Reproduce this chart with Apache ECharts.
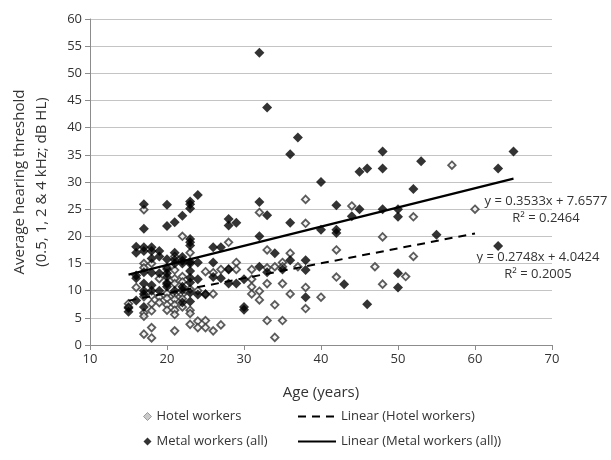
<!DOCTYPE html>
<html>
<head>
<meta charset="utf-8">
<script src="https://cdn.jsdelivr.net/npm/echarts@6/dist/echarts.min.js"></script>
<style>
    html, body { margin: 0; padding: 0; background: #fff; }
    #chart { width: 611px; height: 460px; }
</style>
</head>
<body>
<div id="chart"></div>
<script>
// Hotel workers: [age, average hearing threshold]
const hotelPoints = [
    [15, 7.6], [15, 7.0], [16, 10.6],
    [17, 24.9], [17, 15.0], [17, 14.2], [17, 8.9], [17, 5.9], [17, 5.3], [17, 2.0],
    [18, 15.0], [18, 9.1], [18, 7.6], [18, 6.3], [18, 3.2], [18, 1.3],
    [19, 12.2], [19, 8.8], [19, 7.8],
    [20, 14.3], [20, 11.2], [20, 9.5], [20, 8.6], [20, 7.4], [20, 6.4],
    [21, 16.3], [21, 13.8], [21, 12.2], [21, 11.3], [21, 9.3], [21, 8.4], [21, 7.4], [21, 6.4], [21, 5.6], [21, 2.6],
    [22, 20.0], [22, 12.6], [22, 11.6], [22, 9.3], [22, 8.5], [22, 7.0],
    [23, 17.0], [23, 10.3], [23, 6.4], [23, 5.8], [23, 3.8],
    [24, 10.0], [24, 4.4], [24, 3.2],
    [25, 13.5], [25, 9.3], [25, 4.5], [25, 3.2],
    [26, 13.3], [26, 9.4], [26, 2.6],
    [27, 13.9], [27, 3.7],
    [28, 18.9], [28, 14.0],
    [29, 15.2], [29, 13.9],
    [31, 13.9], [31, 12.1], [31, 10.7], [31, 9.4],
    [32, 24.4], [32, 9.9], [32, 8.3],
    [33, 17.5], [33, 14.2], [33, 11.3], [33, 4.5],
    [34, 14.4], [34, 7.4], [34, 1.4],
    [35, 15.2], [35, 14.4], [35, 11.3], [35, 4.5],
    [36, 16.9], [36, 9.4], [37, 14.4],
    [38, 26.8], [38, 22.4], [38, 10.6], [38, 6.7],
    [40, 8.8], [42, 17.5], [42, 12.5], [44, 25.6], [47, 14.4],
    [48, 19.9], [48, 11.2], [51, 12.6], [52, 23.6], [52, 16.3],
    [57, 33.1], [60, 25.0]
];

// Metal workers (all): [age, average hearing threshold]
const metalPoints = [
    [15, 6.1], [15, 6.8],
    [16, 18.1], [16, 17.0], [16, 12.8], [16, 12.3], [16, 8.2],
    [17, 25.9], [17, 21.4], [17, 18.0], [17, 17.3], [17, 13.4], [17, 11.3], [17, 10.0], [17, 9.4], [17, 7.0],
    [18, 18.0], [18, 17.3], [18, 15.9], [18, 13.3], [18, 11.0], [18, 10.0],
    [19, 17.3], [19, 16.3], [19, 13.2], [19, 10.0],
    [20, 25.8], [20, 21.9], [20, 15.8], [20, 14.0], [20, 13.2], [20, 12.5], [20, 11.4], [20, 10.7],
    [21, 22.6], [21, 17.0], [21, 15.7], [21, 15.0], [21, 10.0],
    [22, 23.8], [22, 16.2], [22, 15.5], [22, 15.0], [22, 10.7], [22, 10.1], [22, 7.8],
    [23, 26.4], [23, 25.9], [23, 25.1], [23, 19.5], [23, 18.9], [23, 18.3], [23, 15.3], [23, 15.0], [23, 13.6], [23, 12.4], [23, 11.5], [23, 9.6], [23, 8.0],
    [24, 27.6], [24, 15.2], [24, 12.1], [24, 9.3],
    [25, 9.4], [26, 18.0], [26, 15.2], [26, 12.5], [27, 18.0], [27, 12.3],
    [28, 23.2], [28, 22.0], [28, 13.9], [28, 11.3], [29, 22.5], [29, 11.3],
    [30, 12.1], [30, 7.0], [30, 6.5],
    [32, 53.8], [32, 26.3], [32, 20.0], [32, 14.4],
    [33, 43.7], [33, 23.9], [33, 13.4], [34, 16.9], [35, 13.9],
    [36, 35.1], [36, 22.5], [36, 15.6], [37, 38.2],
    [38, 15.6], [38, 13.8], [38, 8.8],
    [40, 30.0], [40, 21.2], [42, 25.7], [42, 21.2], [42, 20.6], [43, 11.2], [44, 23.7],
    [45, 31.9], [45, 25.0], [46, 32.5], [46, 7.5],
    [48, 35.6], [48, 32.5], [48, 25.0],
    [50, 25.0], [50, 23.6], [50, 13.2], [50, 10.6],
    [52, 28.7], [53, 33.8], [55, 20.3], [63, 32.5], [63, 18.2], [65, 35.6]
];

// linear trendlines: [slope, intercept], x range
const hotelTrend = [0.2748, 4.0424];
const hotelRange = [15, 60];
const metalTrend = [0.3533, 7.6577];
const metalRange = [15, 65];

const xTicks = [10, 70, 10];  // min, max, interval
const yTicks = [0, 60, 5];

const font = "'Open Sans', 'Liberation Sans', sans-serif";
const textColor = "#333";

function trendLine(coef, range) {
    return range.map((x) => [x, coef[0] * x + coef[1]]);
}

const chart = echarts.init(document.getElementById("chart"));

const legendText = { fontSize: 13, color: textColor, fontFamily: font };

const option = {
    animation: false,
    textStyle: { fontFamily: font },
    grid: { left: 90, right: 59, top: 19, bottom: 115 },
    xAxis: {
        type: "value",
        min: xTicks[0],
        max: xTicks[1],
        interval: xTicks[2],
        name: "Age (years)",
        nameLocation: "middle",
        nameGap: 40,
        nameTextStyle: { fontSize: 15, color: textColor, fontFamily: font },
        axisLine: { lineStyle: { color: "#8c8c8c" } },
        axisTick: { show: true, length: 5, lineStyle: { color: "#8c8c8c" } },
        axisLabel: { fontSize: 13, color: textColor, margin: 8, fontFamily: font },
        splitLine: { show: false },
    },
    yAxis: {
        type: "value",
        min: yTicks[0],
        max: yTicks[1],
        interval: yTicks[2],
        name: "Average hearing threshold\n(0.5, 1, 2 & 4 kHz; dB HL)",
        nameLocation: "middle",
        nameRotate: 90,
        nameGap: 37,
        nameTextStyle: { fontSize: 15, lineHeight: 22, color: textColor, fontFamily: font },
        axisLine: { show: true, lineStyle: { color: "#8c8c8c" } },
        axisTick: { show: true, length: 5, lineStyle: { color: "#8c8c8c" } },
        axisLabel: { fontSize: 13, color: textColor, margin: 8, fontFamily: font },
        splitLine: { show: true, lineStyle: { color: "#c4c4c4", width: 1 } },
    },
    legend: [
        {
            orient: "vertical",
            left: 143,
            top: 410,
            padding: 0,
            itemWidth: 8,
            itemHeight: 8,
            itemGap: 12,
            textStyle: legendText,
            data: [
                { name: "Hotel workers", icon: "diamond", itemStyle: { color: "#bdbdbd", borderColor: "#888", borderWidth: 1 } },
                { name: "Metal workers (all)", icon: "diamond" },
            ],
        },
        {
            orient: "vertical",
            left: 297,
            top: 410,
            padding: 0,
            itemWidth: 38,
            itemHeight: 8,
            itemGap: 12,
            textStyle: legendText,
            data: [
                { name: "Linear (Hotel workers)", itemStyle: { opacity: 0 } },
                { name: "Linear (Metal workers (all))", itemStyle: { opacity: 0 } },
            ],
        },
    ],
    series: [
        {
            name: "Hotel workers",
            type: "scatter",
            symbol: "diamond",
            symbolSize: 7.5,
            data: hotelPoints,
            itemStyle: { color: "#f2f2f2", borderColor: "#333", borderWidth: 1.8 },
        },
        {
            name: "Metal workers (all)",
            type: "scatter",
            symbol: "diamond",
            symbolSize: 10,
            data: metalPoints,
            itemStyle: { color: "#000" },
        },
        {
            name: "Linear (Hotel workers)",
            type: "line",
            symbol: "none",
            data: trendLine(hotelTrend, hotelRange),
            lineStyle: { color: "#000", width: 2, type: [8, 6] },
            itemStyle: { color: "#000" },
        },
        {
            name: "Linear (Metal workers (all))",
            type: "line",
            symbol: "none",
            data: trendLine(metalTrend, metalRange),
            lineStyle: { color: "#000", width: 2.2 },
            itemStyle: { color: "#000" },
        },
    ],
    graphic: [
        {
            type: "text",
            x: 546,
            y: 193,
            style: {
                text: "y = 0.3533x + 7.6577\nR² = 0.2464",
                align: "center",
                fontSize: 13,
                lineHeight: 17,
                fontFamily: font,
                fill: textColor,
            },
        },
        {
            type: "text",
            x: 538,
            y: 249,
            style: {
                text: "y = 0.2748x + 4.0424\nR² = 0.2005",
                align: "center",
                fontSize: 13,
                lineHeight: 17,
                fontFamily: font,
                fill: textColor,
            },
        },
    ],
};

chart.setOption(option);
</script>
</body>
</html>
